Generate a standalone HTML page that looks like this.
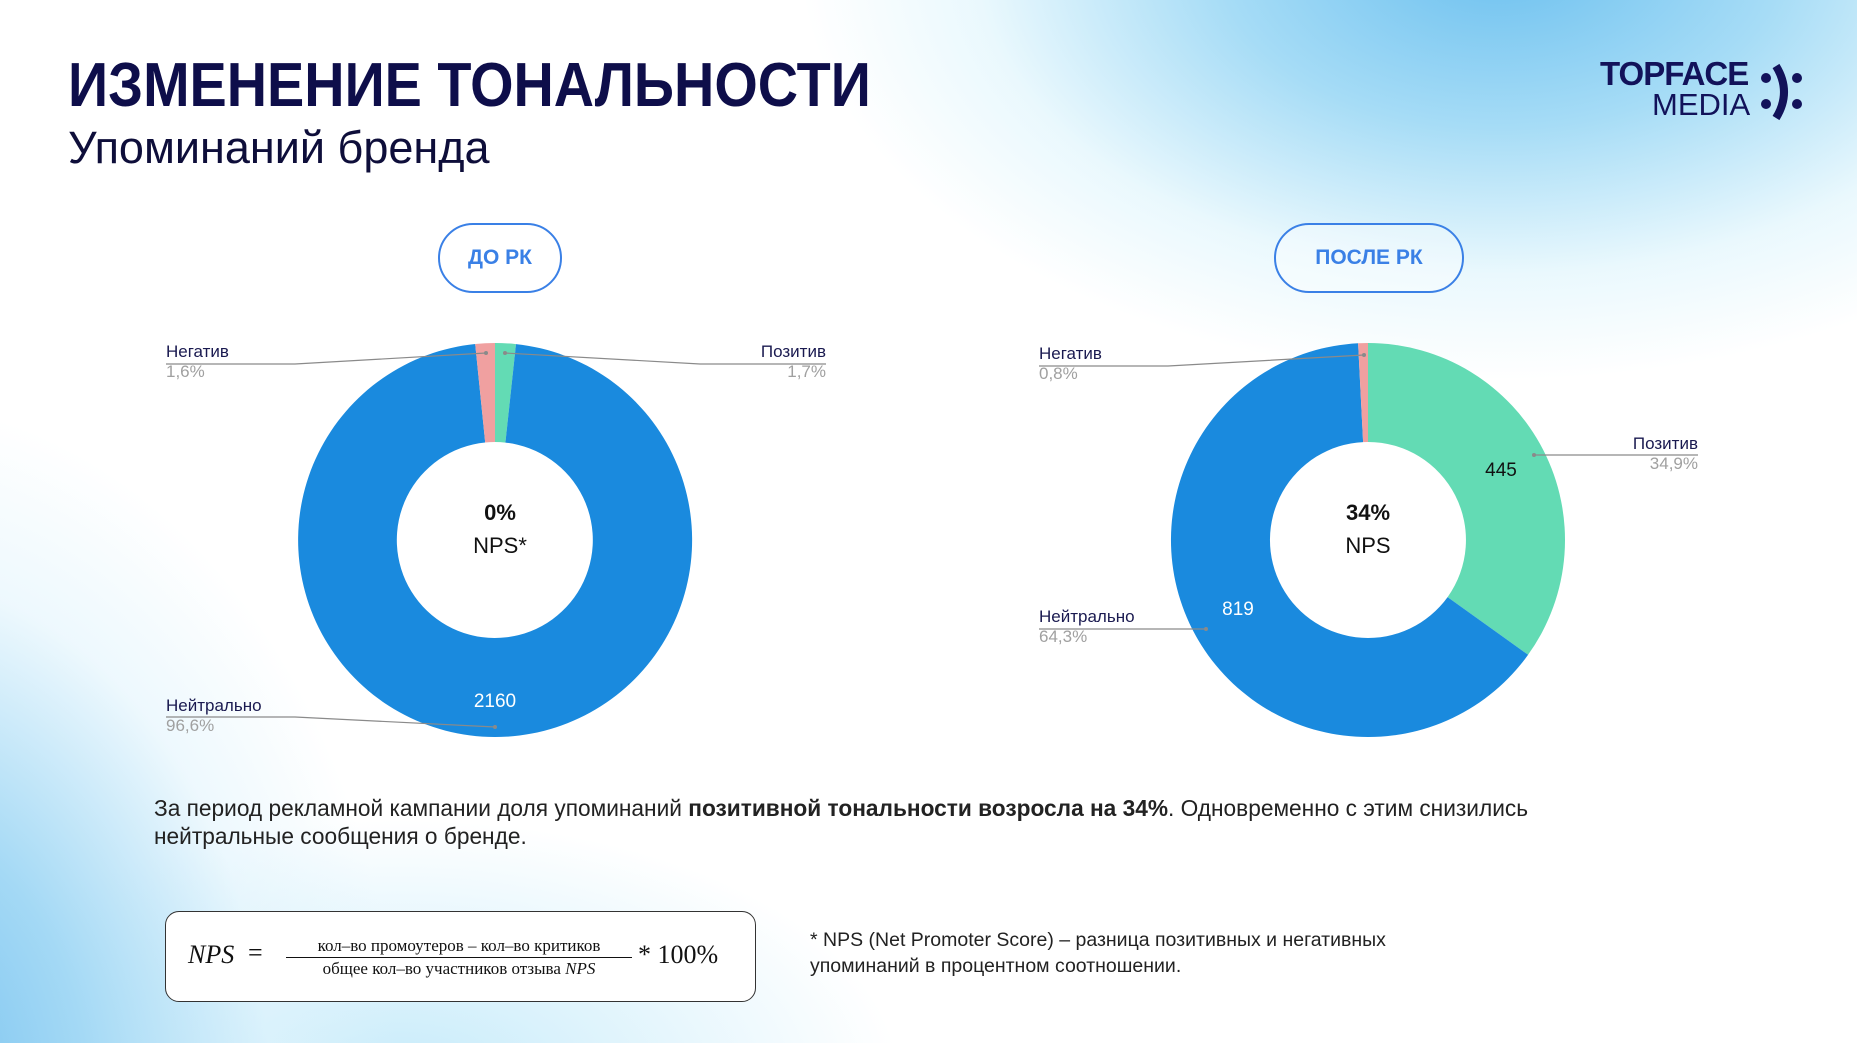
<!DOCTYPE html>
<html><head><meta charset="utf-8"><style>
html,body{margin:0;padding:0}
body{width:1857px;height:1043px;position:relative;overflow:hidden;font-family:"Liberation Sans",sans-serif;
background:
radial-gradient(ellipse 700px 420px at 1500px -40px,#6cc0ef 0%,#a6dcf6 40%,rgba(220,244,252,0.6) 75%,rgba(255,255,255,0) 100%),
radial-gradient(ellipse 520px 700px at -120px 1100px,#6fbdee 0%,#a4d9f5 40%,rgba(220,242,252,0.5) 75%,rgba(255,255,255,0) 100%),
radial-gradient(ellipse 500px 260px at 400px 1080px,#c6ebfa 0%,rgba(255,255,255,0) 100%),
#ffffff;}
.t{position:absolute;white-space:nowrap}
.pill{position:absolute;border:2px solid #3a80e6;border-radius:36px;color:#3a80e6;font-weight:bold;font-size:21px;display:flex;align-items:center;justify-content:center;box-sizing:border-box;background:rgba(255,255,255,0.35)}
.lab{position:absolute;font-size:17px;color:#1a1a50;line-height:20px}
.lab span{display:block;color:#a0a0a0}
</style></head><body>
<div class="t" style="left:68px;top:50px;font-size:62px;font-weight:bold;color:#0e0e4a;transform:scaleX(0.9);transform-origin:0 0">ИЗМЕНЕНИЕ ТОНАЛЬНОСТИ</div>
<div class="t" style="left:68px;top:122px;font-size:45px;color:#0e0e3a">Упоминаний бренда</div>
<div class="t" style="left:1600px;top:58px;font-size:33px;font-weight:bold;color:#12125a;line-height:32px;letter-spacing:-1px">TOPFACE</div>
<div class="t" style="left:1652px;top:90px;font-size:31px;color:#12125a;line-height:30px">MEDIA</div>
<svg style="position:absolute;left:1758px;top:62px" width="50" height="60"><circle cx="8" cy="16" r="5" fill="#12125a"/><circle cx="8" cy="42" r="5" fill="#12125a"/><path d="M18 4 Q34 30 18 56" stroke="#12125a" stroke-width="8" fill="none"/><circle cx="39" cy="16" r="5" fill="#12125a"/><circle cx="39" cy="42" r="5" fill="#12125a"/></svg>

<div class="pill" style="left:438px;top:223px;width:124px;height:70px">ДО РК</div>
<div class="pill" style="left:1274px;top:223px;width:190px;height:70px">ПОСЛЕ РК</div>

<svg style="position:absolute;left:0;top:0" width="1857" height="1043">
<g>
<path d="M495 343 A197 197 0 0 1 516.0 344.1 L505.4 442.6 A98 98 0 0 0 495 442 Z" fill="#63dbb4"/>
<path d="M516.0 344.1 A197 197 0 1 1 475.2 344.0 L485.2 442.5 A98 98 0 1 0 505.4 442.6 Z" fill="#1a8ade"/>
<path d="M475.2 344.0 A197 197 0 0 1 495 343 L495 442 A98 98 0 0 0 485.2 442.5 Z" fill="#f0a0a0"/>
<path d="M1368 343 A197 197 0 0 1 1528.1 654.8 L1447.6 597.1 A98 98 0 0 0 1368 442 Z" fill="#63dbb4"/>
<path d="M1528.1 654.8 A197 197 0 1 1 1358.1 343.3 L1363.1 442.1 A98 98 0 1 0 1447.6 597.1 Z" fill="#1a8ade"/>
<path d="M1358.1 343.3 A197 197 0 0 1 1368 343 L1368 442 A98 98 0 0 0 1363.1 442.1 Z" fill="#f0a0a0"/>
</g>
<g stroke="#8a8a8a" stroke-width="1.2" fill="none">
<polyline points="166,364 295,364 486,353"/>
<polyline points="826,364 700,364 505,353"/>
<polyline points="166,717 295,717 495,727"/>
<polyline points="1039,366 1168,366 1364,355"/>
<polyline points="1698,455 1534,455"/>
<polyline points="1039,629 1206,629"/>
</g>
<g fill="#8a8a8a"><circle cx="486" cy="353" r="2"/><circle cx="505" cy="353" r="2"/><circle cx="495" cy="727" r="2"/><circle cx="1364" cy="355" r="2"/><circle cx="1534" cy="455" r="2"/><circle cx="1206" cy="629" r="2"/></g>
</svg>

<div class="lab" style="left:166px;top:342px">Негатив<span>1,6%</span></div>
<div class="lab" style="left:700px;top:342px;width:126px;text-align:right">Позитив<span>1,7%</span></div>
<div class="lab" style="left:166px;top:696px">Нейтрально<span>96,6%</span></div>
<div class="lab" style="left:1039px;top:344px">Негатив<span>0,8%</span></div>
<div class="lab" style="left:1570px;top:434px;width:128px;text-align:right">Позитив<span>34,9%</span></div>
<div class="lab" style="left:1039px;top:607px">Нейтрально<span>64,3%</span></div>

<div class="t" style="left:455px;top:691px;width:80px;text-align:center;color:#fff;font-size:19px">2160</div>
<div class="t" style="left:1198px;top:599px;width:80px;text-align:center;color:#fff;font-size:19px">819</div>
<div class="t" style="left:1461px;top:460px;width:80px;text-align:center;color:#111;font-size:19px">445</div>

<div class="t" style="left:440px;top:500px;width:120px;text-align:center;font-size:22px;font-weight:bold;color:#111">0%</div>
<div class="t" style="left:440px;top:533px;width:120px;text-align:center;font-size:22px;color:#111">NPS*</div>
<div class="t" style="left:1308px;top:500px;width:120px;text-align:center;font-size:22px;font-weight:bold;color:#111">34%</div>
<div class="t" style="left:1308px;top:533px;width:120px;text-align:center;font-size:22px;color:#111">NPS</div>

<div class="t" style="left:154px;top:794px;font-size:22.7px;color:#222;line-height:28px">За период рекламной кампании доля упоминаний <b>позитивной тональности возросла на 34%</b>. Одновременно с этим снизились<br>нейтральные сообщения о бренде.</div>

<div style="position:absolute;left:165px;top:911px;width:591px;height:91px;box-sizing:border-box;border:1.5px solid #333;border-radius:14px;background:#fff"></div>
<div class="t" style="left:188px;top:940px;font-family:'Liberation Serif',serif;font-style:italic;font-size:26px;color:#111">NPS</div>
<div class="t" style="left:248px;top:938px;font-family:'Liberation Serif',serif;font-size:26px;color:#111">=</div>
<div class="t" style="left:286px;top:935px;width:346px;text-align:center;font-family:'Liberation Serif',serif;font-size:17px;color:#111;border-bottom:1.3px solid #111;line-height:22px">кол–во промоутеров – кол–во критиков</div>
<div class="t" style="left:286px;top:958px;width:346px;text-align:center;font-family:'Liberation Serif',serif;font-size:17px;color:#111;line-height:22px">общее кол–во участников отзыва <i>NPS</i></div>
<div class="t" style="left:638px;top:940px;font-family:'Liberation Serif',serif;font-size:26px;color:#111">* 100%</div>

<div class="t" style="left:810px;top:927px;font-size:19.5px;color:#222;line-height:26px">* NPS (Net Promoter Score) – разница позитивных и негативных<br>упоминаний в процентном соотношении.</div>
</body></html>
